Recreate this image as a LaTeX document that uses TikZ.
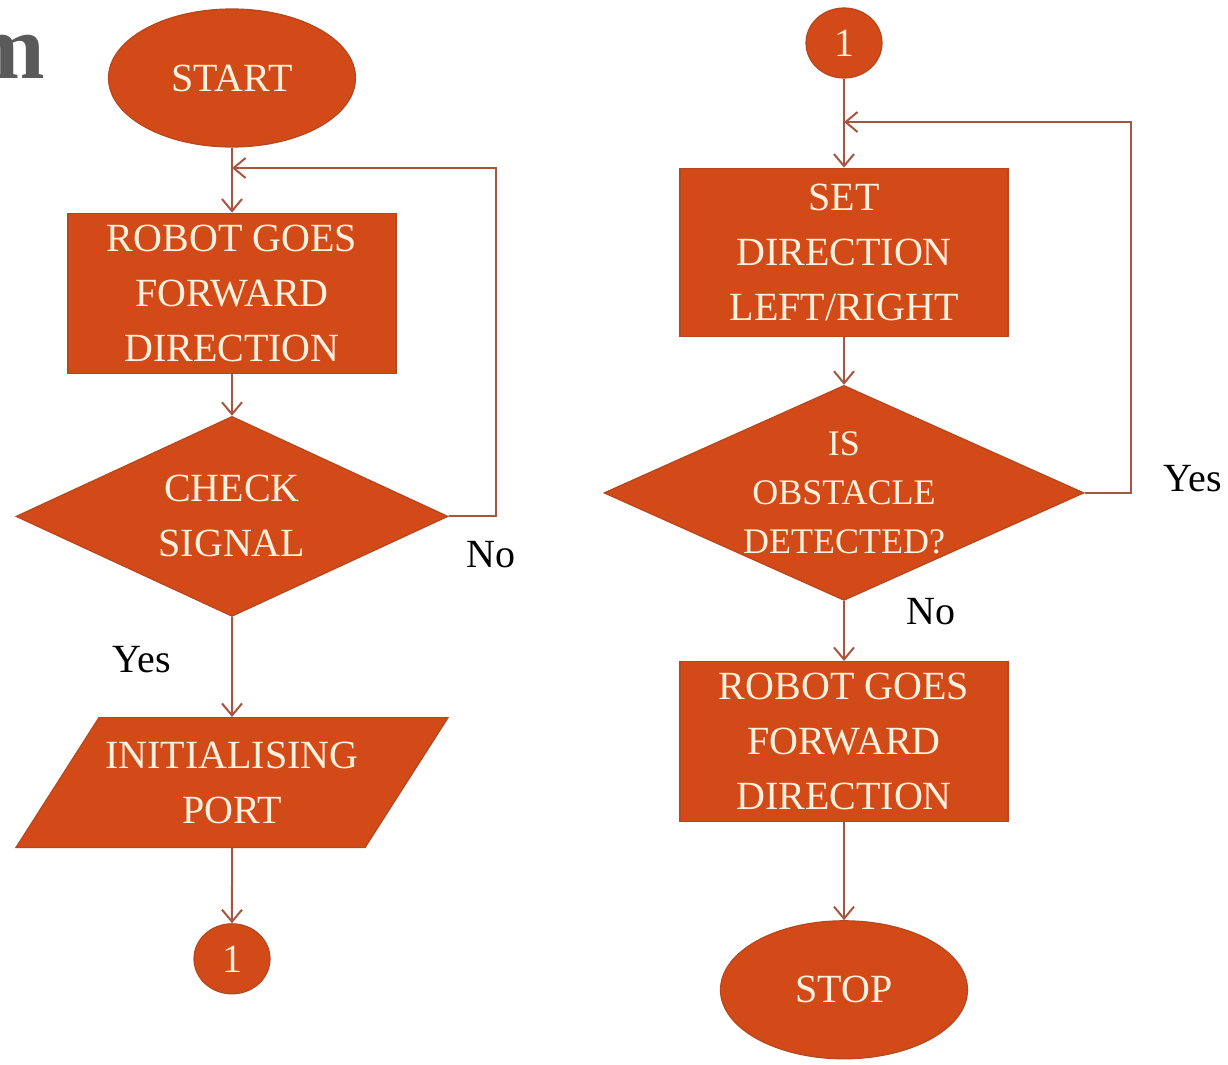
\documentclass[tikz,border=0pt]{standalone}
\usepackage{fontspec}
\setmainfont{Liberation Serif}
\usetikzlibrary{arrows.meta,positioning,shapes.geometric}

\definecolor{boxfill}{HTML}{D14A17}
\definecolor{boxedge}{HTML}{B8461E}
\definecolor{linkcol}{HTML}{A8553F}
\definecolor{boxtext}{HTML}{FFF1DE}
\definecolor{titlegray}{HTML}{5A5A5A}

\begin{document}
\begin{tikzpicture}[
  x=0.5pt,y=-0.5pt,
  every node/.style={font=\fontsize{20}{27.5}\selectfont,align=center,inner sep=0pt},
  blk/.style={fill=boxfill,draw=boxedge,line width=0.6pt,text=boxtext},
  terminal/.style={blk,ellipse,minimum width=123.5pt,minimum height=69pt},
  process/.style={blk,rectangle,minimum width=164pt,minimum height=80pt},
  decision/.style={blk,diamond},
  io/.style={blk,trapezium,trapezium left angle=46,trapezium right angle=134,
    trapezium stretches=true,minimum width=216.5pt,minimum height=65pt},
  joint/.style={blk,ellipse,minimum width=38pt,minimum height=35pt},
  lbl/.style={text=black},
  arr/.style={draw=linkcol,line width=1pt,-{Straight Barb[length=6pt,width=10pt]}},
]
\useasboundingbox (0,0) rectangle (1228,1065);
\clip (0,0) rectangle (1228,1065);

\node[font=\fontsize{46}{46}\selectfont\bfseries,text=titlegray,anchor=base east] (ttl) at (46,79) {m};

% left column
\node[terminal] (start) at (232,78) {START};
\node[process,below=32.5pt of start] (fwd1) {ROBOT GOES\\FORWARD\\DIRECTION};
\node[decision,minimum width=216pt,minimum height=100pt,aspect=2.16,below=21pt of fwd1] (check) {CHECK\\SIGNAL};
\node[io,below=50pt of check] (port) {INITIALISING\\PORT};
\node[joint,below=37.5pt of port] (c0) {1};

\coordinate (j1) at (start.south |- 0,168);

\draw[arr] (start) -- (fwd1);
\draw[arr] (fwd1) -- (check);
\draw[arr] (check.east) -- ++(47,0) |- (j1);
\draw[arr] (check) -- (port);
\draw[arr] (port) -- (c0);

\node[lbl] (no1) at (491,555) {No};
\node[lbl] (yes1) at (142,660) {Yes};

% right column
\node[joint] (c1) at (844,43) {1};
\node[process,minimum height=84pt,below=44.5pt of c1] (setdir) {SET\\DIRECTION\\LEFT/RIGHT};
\node[decision,font=\fontsize{18}{24.5}\selectfont,minimum width=240pt,minimum height=107.5pt,aspect=2.23,below=24pt of setdir] (obst) {IS\\OBSTACLE\\DETECTED?};
\node[process,below=30pt of obst] (fwd2) {ROBOT GOES\\FORWARD\\DIRECTION};
\node[terminal,below=49pt of fwd2] (stop) {STOP};

\coordinate (j2) at (c1.south |- 0,122);

\draw[arr] (c1) -- (setdir);
\draw[arr] (setdir) -- (obst);
\draw[arr] (obst.east) -- ++(46,0) |- (j2);
\draw[arr] (obst) -- (fwd2);
\draw[arr] (fwd2) -- (stop);

\node[lbl] (yes2) at (1193,479) {Yes};
\node[lbl] (no2) at (931,612) {No};
\end{tikzpicture}
\end{document}
